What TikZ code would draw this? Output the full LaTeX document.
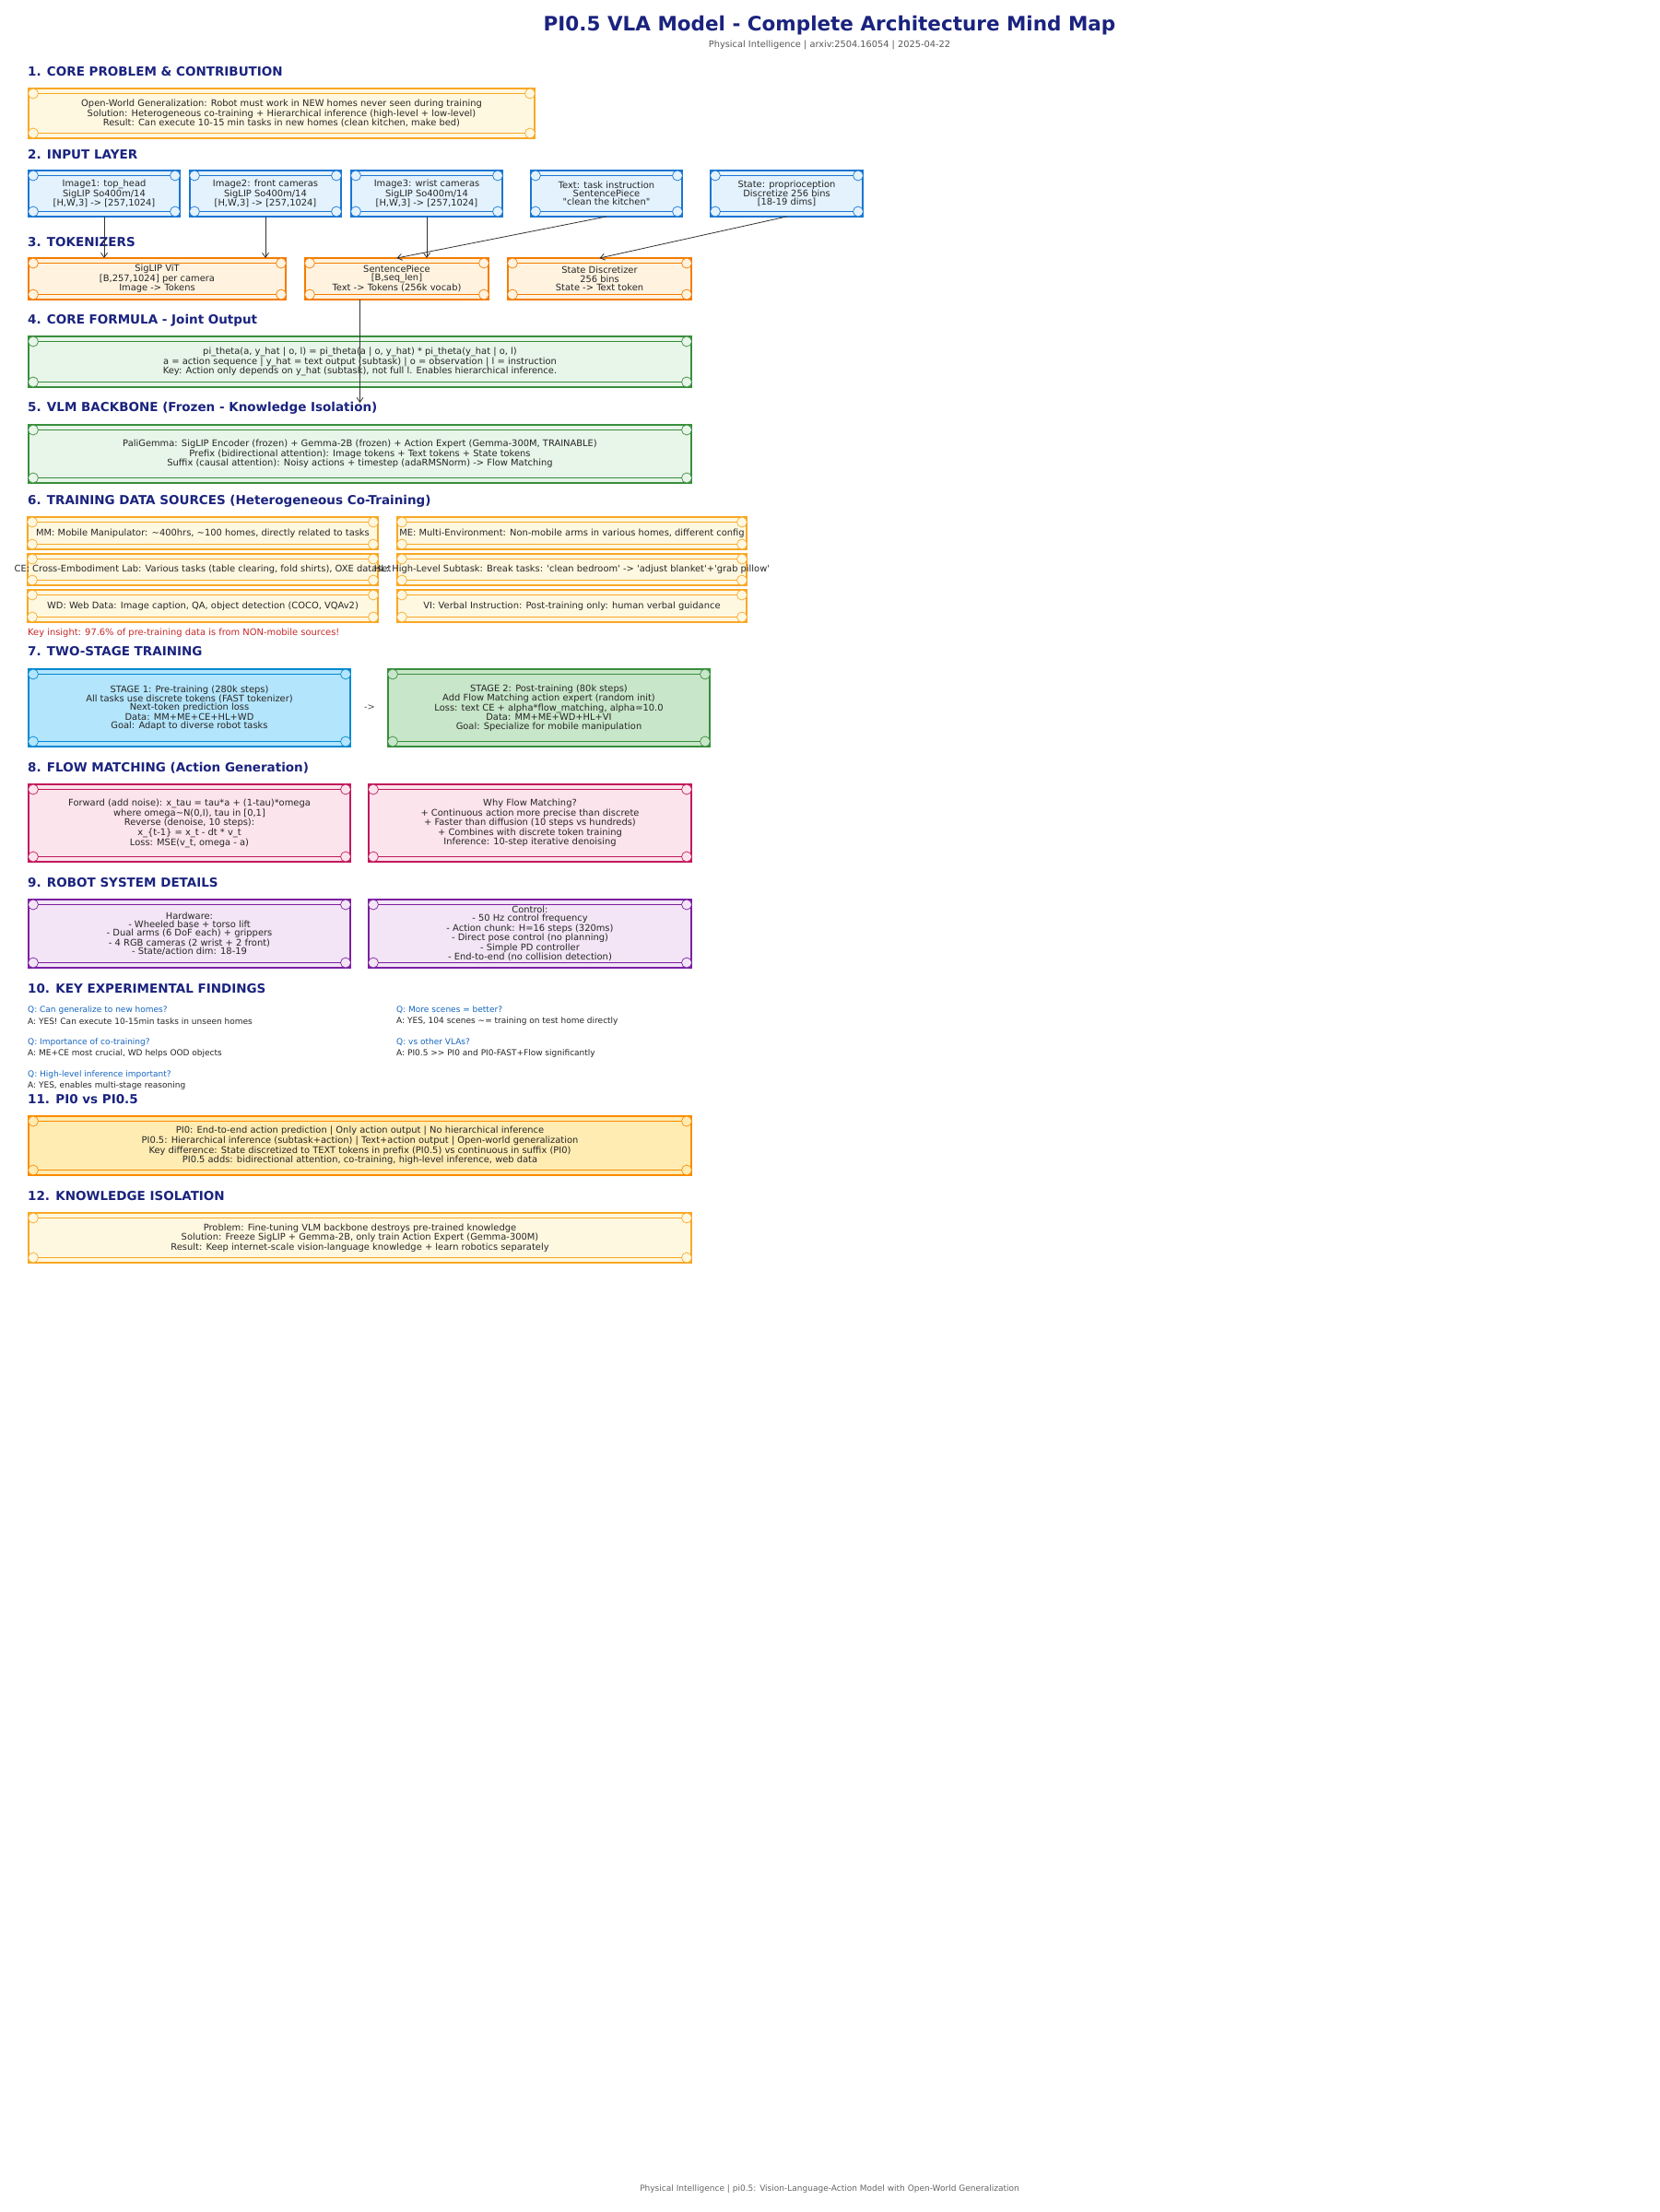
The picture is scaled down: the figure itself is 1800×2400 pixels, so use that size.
\documentclass[tikz,border=0pt]{standalone}
\usepackage{fontspec}
\setmainfont{DejaVu Sans}[Ligatures=TeXOff]
\usepackage{tikz}
\usepackage{xcolor}
\usetikzlibrary{calc, arrows.meta}

\definecolor{navy}{HTML}{1A237E}
\definecolor{ambr}{HTML}{F9A825}
\definecolor{ambrfill}{HTML}{FFF8E1}
\definecolor{blu}{HTML}{1976D2}
\definecolor{blufill}{HTML}{E3F2FD}
\definecolor{org}{HTML}{F57C00}
\definecolor{orgfill}{HTML}{FFF3E0}
\definecolor{grn}{HTML}{388E3C}
\definecolor{grnfill}{HTML}{E8F5E9}
\definecolor{grnfillb}{HTML}{C8E6C9}
\definecolor{cyn}{HTML}{0288D1}
\definecolor{cynfill}{HTML}{B3E5FC}
\definecolor{pnk}{HTML}{C2185B}
\definecolor{pnkfill}{HTML}{FCE4EC}
\definecolor{prp}{HTML}{7B1FA2}
\definecolor{prpfill}{HTML}{F3E5F5}
\definecolor{orgb}{HTML}{FB8C00}
\definecolor{orgbfill}{HTML}{FFECB3}
\definecolor{qblue}{HTML}{1565C0}
\definecolor{insight}{HTML}{C62828}

\newcommand{\boxfont}{\fontsize{9.9}{9.2}\selectfont}
\newcommand{\deco}[3]{%
  \draw[#2, line width=1.5pt] ($(#1.north west)+(5,5.5)$) -- ($(#1.north east)+(-5,5.5)$)
    ($(#1.south west)+(5,-5.5)$) -- ($(#1.south east)+(-5,-5.5)$);
  \foreach \a/\dx/\dy in {north west/5/5.5, north east/-5/5.5, south west/5/-5.5, south east/-5/-5.5}
    \draw[#2, fill=#3, line width=0.7pt] ($(#1.\a)+(\dx,\dy)$) circle (5.5pt);
}

\begin{document}
\begin{tikzpicture}[x=1pt, y=-1pt,
    mbox/.style 2 args={draw=#1, fill=#2, line width=1.5pt, anchor=north west, inner sep=0pt, outer sep=0pt, align=center, font=\boxfont, text=black!85},
    head/.style={anchor=west, inner sep=0pt, font=\fontsize{13.5}{16}\selectfont\bfseries, text=navy},
    qline/.style={anchor=west, inner sep=0pt, font=\fontsize{9}{10}\selectfont, text=qblue},
    aline/.style={anchor=west, inner sep=0pt, font=\fontsize{9}{10}\selectfont, text=black!85},
    link/.style={-{Straight Barb[length=5pt, width=7pt]}, draw=black!80, line width=0.8pt}]
\useasboundingbox[fill=white] (0,0) rectangle (1800,2400);

\node[font=\fontsize{21.5}{24}\selectfont\bfseries, text=navy] (title) at (900,28) {PI0.5 VLA Model - Complete Architecture Mind Map};
\node[font=\fontsize{9.8}{11}\selectfont, text=black!65] (subtitle) at (900,49) {Physical Intelligence | arxiv:2504.16054 | 2025-04-22};

\node[head] (h1) at (30,78) {1. CORE PROBLEM \& CONTRIBUTION};
\node[mbox={ambr}{ambrfill}, minimum width=549, minimum height=54] (core) at (31,96) {Open-World Generalization: Robot must work in NEW homes never seen during training\\Solution: Heterogeneous co-training + Hierarchical inference (high-level + low-level)\\Result: Can execute 10-15 min tasks in new homes (clean kitchen, make bed)};

\node[head] (h2) at (30,168) {2. INPUT LAYER};
\node[mbox={blu}{blufill}, minimum width=164, minimum height=50] (img1) at (31,185) {Image1: top\_head\\SigLIP So400m/14\\{}[H,W,3] -> [257,1024]};
\node[mbox={blu}{blufill}, minimum width=164, minimum height=50] (img2) at (206,185) {Image2: front cameras\\SigLIP So400m/14\\{}[H,W,3] -> [257,1024]};
\node[mbox={blu}{blufill}, minimum width=164, minimum height=50] (img3) at (381,185) {Image3: wrist cameras\\SigLIP So400m/14\\{}[H,W,3] -> [257,1024]};
\node[mbox={blu}{blufill}, minimum width=164, minimum height=50] (txt) at (576,185) {Text: task instruction\\SentencePiece\\"clean the kitchen"};
\node[mbox={blu}{blufill}, minimum width=165, minimum height=50] (st) at (771,185) {State: proprioception\\Discretize 256 bins\\{}[18-19 dims]};

\node[head] (h3) at (30,263) {3. TOKENIZERS};
\node[mbox={org}{orgfill}, minimum width=279, minimum height=45] (vit) at (31,280) {SigLIP ViT\\{}[B,257,1024] per camera\\Image -> Tokens};
\node[mbox={org}{orgfill}, minimum width=199, minimum height=45] (sp) at (331,280) {SentencePiece\\{}[B,seq\_len]\\Text -> Tokens (256k vocab)};
\node[mbox={org}{orgfill}, minimum width=199, minimum height=45] (disc) at (551,280) {State Discretizer\\256 bins\\State -> Text token};

\node[head] (h4) at (30,348) {4. CORE FORMULA - Joint Output};
\node[mbox={grn}{grnfill}, minimum width=719, minimum height=55] (formula) at (31,365) {pi\_theta(a, y\_hat | o, l) = pi\_theta(a | o, y\_hat) * pi\_theta(y\_hat | o, l)\\a = action sequence | y\_hat = text output (subtask) | o = observation | l = instruction\\Key: Action only depends on y\_hat (subtask), not full l. Enables hierarchical inference.};

\node[head] (h5) at (30,443) {5. VLM BACKBONE (Frozen - Knowledge Isolation)};
\node[mbox={grn}{grnfill}, minimum width=719, minimum height=63] (bb) at (31,461) {PaliGemma: SigLIP Encoder (frozen) + Gemma-2B (frozen) + Action Expert (Gemma-300M, TRAINABLE)\\Prefix (bidirectional attention): Image tokens + Text tokens + State tokens\\Suffix (causal attention): Noisy actions + timestep (adaRMSNorm) -> Flow Matching};

\node[head] (h6) at (30,544) {6. TRAINING DATA SOURCES (Heterogeneous Co-Training)};
\node[mbox={ambr}{ambrfill}, minimum width=380, minimum height=35] (mm) at (30,561) {MM: Mobile Manipulator: \textasciitilde400hrs, \textasciitilde100 homes, directly related to tasks};
\node[mbox={ambr}{ambrfill}, minimum width=379, minimum height=35] (me) at (431,561) {ME: Multi-Environment: Non-mobile arms in various homes, different config};
\node[mbox={ambr}{ambrfill}, minimum width=380, minimum height=34] (ce) at (30,601) {\makebox[0pt]{CE: Cross-Embodiment Lab: Various tasks (table clearing, fold shirts), OXE dataset}};
\node[mbox={ambr}{ambrfill}, minimum width=379, minimum height=34] (hl) at (431,601) {\makebox[0pt]{HL: High-Level Subtask: Break tasks: 'clean bedroom' -> 'adjust blanket'+'grab pillow'}};
\node[mbox={ambr}{ambrfill}, minimum width=380, minimum height=35] (wd) at (30,640) {WD: Web Data: Image caption, QA, object detection (COCO, VQAv2)};
\node[mbox={ambr}{ambrfill}, minimum width=379, minimum height=35] (vi) at (431,640) {VI: Verbal Instruction: Post-training only: human verbal guidance};
\node[anchor=west, inner sep=0pt, font=\fontsize{9.9}{11}\selectfont, text=insight] (insight) at (30,687) {Key insight: 97.6\% of pre-training data is from NON-mobile sources!};

\node[head] (h7) at (30,707) {7. TWO-STAGE TRAINING};
\node[mbox={cyn}{cynfill}, minimum width=349, minimum height=84] (stage1) at (31,726) {STAGE 1: Pre-training (280k steps)\\All tasks use discrete tokens (FAST tokenizer)\\Next-token prediction loss\\Data: MM+ME+CE+HL+WD\\Goal: Adapt to diverse robot tasks};
\node[font=\boxfont, text=black!70] (then) at (401,768) {->};
\node[mbox={grn}{grnfillb}, minimum width=349, minimum height=84] (stage2) at (421,726) {STAGE 2: Post-training (80k steps)\\Add Flow Matching action expert (random init)\\Loss: text CE + alpha*flow\_matching, alpha=10.0\\Data: MM+ME+WD+HL+VI\\Goal: Specialize for mobile manipulation};

\node[head] (h8) at (30,833) {8. FLOW MATCHING (Action Generation)};
\node[mbox={pnk}{pnkfill}, minimum width=349, minimum height=84] (fwd) at (31,851) {Forward (add noise): x\_tau = tau*a + (1-tau)*omega\\where omega\textasciitilde N(0,I), tau in [0,1]\\Reverse (denoise, 10 steps):\\x\_\{t-1\} = x\_t - dt * v\_t\\Loss: MSE(v\_t, omega - a)};
\node[mbox={pnk}{pnkfill}, minimum width=350, minimum height=84] (why) at (400,851) {Why Flow Matching?\\+ Continuous action more precise than discrete\\+ Faster than diffusion (10 steps vs hundreds)\\+ Combines with discrete token training\\Inference: 10-step iterative denoising};

\node[head] (h9) at (30,958) {9. ROBOT SYSTEM DETAILS};
\node[mbox={prp}{prpfill}, minimum width=349, minimum height=74] (hw) at (31,976) {Hardware:\\- Wheeled base + torso lift\\- Dual arms (6 DoF each) + grippers\\- 4 RGB cameras (2 wrist + 2 front)\\- State/action dim: 18-19};
\node[mbox={prp}{prpfill}, minimum width=350, minimum height=74] (ctl) at (400,976) {Control:\\- 50 Hz control frequency\\- Action chunk: H=16 steps (320ms)\\- Direct pose control (no planning)\\- Simple PD controller\\- End-to-end (no collision detection)};

\node[head] (h10) at (30,1073) {10. KEY EXPERIMENTAL FINDINGS};
\node[qline] (q1) at (30,1096) {Q: Can generalize to new homes?};
\node[aline] (a1) at (30,1108) {A: YES! Can execute 10-15min tasks in unseen homes};
\node[qline] (q2) at (430,1096) {Q: More scenes = better?};
\node[aline] (a2) at (430,1108) {A: YES, 104 scenes \textasciitilde= training on test home directly};
\node[qline] (q3) at (30,1131) {Q: Importance of co-training?};
\node[aline] (a3) at (30,1143) {A: ME+CE most crucial, WD helps OOD objects};
\node[qline] (q4) at (430,1131) {Q: vs other VLAs?};
\node[aline] (a4) at (430,1143) {A: PI0.5 >> PI0 and PI0-FAST+Flow significantly};
\node[qline] (q5) at (30,1166) {Q: High-level inference important?};
\node[aline] (a5) at (30,1178) {A: YES, enables multi-stage reasoning};

\node[head] (h11) at (30,1193) {11. PI0 vs PI0.5};
\node[mbox={orgb}{orgbfill}, minimum width=719, minimum height=64] (pivs) at (31,1211) {PI0: End-to-end action prediction | Only action output | No hierarchical inference\\PI0.5: Hierarchical inference (subtask+action) | Text+action output | Open-world generalization\\Key difference: State discretized to TEXT tokens in prefix (PI0.5) vs continuous in suffix (PI0)\\PI0.5 adds: bidirectional attention, co-training, high-level inference, web data};

\node[head] (h12) at (30,1298) {12. KNOWLEDGE ISOLATION};
\node[mbox={ambr}{ambrfill}, minimum width=719, minimum height=54] (iso) at (31,1316) {Problem: Fine-tuning VLM backbone destroys pre-trained knowledge\\Solution: Freeze SigLIP + Gemma-2B, only train Action Expert (Gemma-300M)\\Result: Keep internet-scale vision-language knowledge + learn robotics separately};

\foreach \n/\c/\f in {core/ambr/ambrfill, img1/blu/blufill, img2/blu/blufill, img3/blu/blufill, txt/blu/blufill, st/blu/blufill,
    vit/org/orgfill, sp/org/orgfill, disc/org/orgfill, formula/grn/grnfill, bb/grn/grnfill,
    mm/ambr/ambrfill, me/ambr/ambrfill, ce/ambr/ambrfill, hl/ambr/ambrfill, wd/ambr/ambrfill, vi/ambr/ambrfill,
    stage1/cyn/cynfill, stage2/grn/grnfillb, fwd/pnk/pnkfill, why/pnk/pnkfill, hw/prp/prpfill, ctl/prp/prpfill,
    pivs/orgb/orgbfill, iso/ambr/ambrfill}
  \deco{\n}{\c}{\f};

\coordinate (bbin) at (390.5,437);
\draw[link] (img1.south) -- (img1.south |- vit.north);
\draw[link] (img2.south) -- (img2.south |- vit.north);
\draw[link] (img3.south) -- (img3.south |- sp.north);
\draw[link] (txt.south) -- (sp.north);
\draw[link] (st.south) -- (disc.north);
\draw[link] (bb.north |- sp.south) -- (bbin);

\node[font=\fontsize{9}{10}\selectfont, text=black!60] (footer) at (900,2375) {Physical Intelligence | pi0.5: Vision-Language-Action Model with Open-World Generalization};
\end{tikzpicture}
\end{document}
